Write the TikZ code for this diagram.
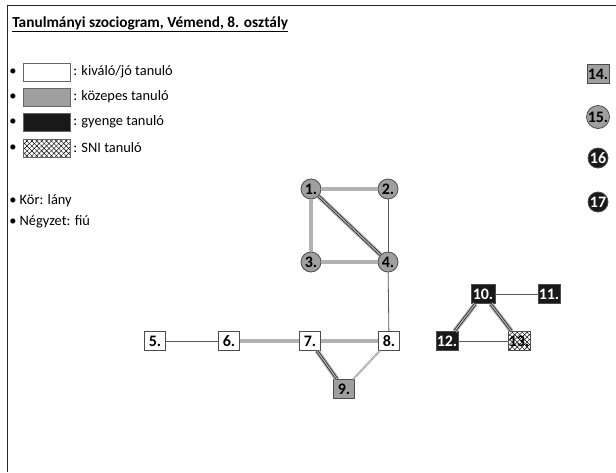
\documentclass[tikz,border=0pt]{standalone}
\usepackage{fontspec}
\setmainfont{Carlito}
\usetikzlibrary{patterns.meta}
\begin{document}
\begin{tikzpicture}[x=0.75pt,y=-0.75pt,
  every node/.style={font=\bfseries\fontsize{12}{14}\selectfont, inner sep=0pt},
  girl/.style={circle, draw=black!70, line width=0.6pt, minimum size=20*0.75pt},
  boy/.style={rectangle, draw=black!70, line width=0.6pt, minimum width=21*0.75pt, minimum height=19*0.75pt},
  good/.style={fill=white, text=black},
  mid/.style={fill=gray!75, text=black},
  weak/.style={fill=black!90, text=white},
  sni/.style={fill=white, text=black,
    pattern={Lines[angle=45,distance=2.6pt,line width=0.35pt]},
    preaction={fill=white},
    preaction={pattern={Lines[angle=-45,distance=2.6pt,line width=0.35pt]}}},
  mutual/.style={draw=black!90, line width=0.5pt, double=gray!60, double distance=0.9pt,
    preaction={draw=gray!60, line width=3.6pt}},
  single/.style={draw=gray!70!black, line width=0.6pt},
  light/.style={draw=gray!75, line width=0.45pt, double=gray!40, double distance=0.6pt},
  legbox/.style={rectangle, draw=black!60, line width=0.5pt, minimum width=47*0.75pt, minimum height=18*0.75pt},
  legtext/.style={font=\fontsize{10.8}{12}\selectfont, anchor=west},
]
\useasboundingbox (0,0) rectangle (616,472);
\fill[white] (0,0) rectangle (616,472);
% frame
\draw[black!85, line width=1.2pt] (7.5,472) -- (7.5,5.5) -- (616,5.5);

% title
\node[anchor=base west, font=\bfseries\fontsize{11.5}{13}\selectfont] (title) at (12,27) {\underline{Tanulmányi szociogram, Vémend, 8. osztály}};

% legend
\node[legtext] (b1) at (9,72) {\textbullet};
\node[legbox, fill=white] (l1) at (46.5,72) {};
\node[legtext] (t1) at (73,72) {: kiváló/jó tanuló};
\node[legtext] (b2) at (9,97) {\textbullet};
\node[legbox, fill=gray!75] (l2) at (46.5,97) {};
\node[legtext] (t2) at (73,97) {: közepes tanuló};
\node[legtext] (b3) at (9,122) {\textbullet};
\node[legbox, fill=black!90] (l3) at (46.5,122) {};
\node[legtext] (t3) at (73,122) {: gyenge tanuló};
\node[legtext] (b4) at (9,148) {\textbullet};
\node[legbox, sni] (l4) at (46.5,148) {};
\node[legtext] (t4) at (73,148) {: SNI tanuló};
\node[legtext] (kor) at (9,201) {\textbullet\ Kör: lány};
\node[legtext] (negy) at (9,222) {\textbullet\ Négyzet: fiú};

% nodes
\node[girl, mid] (n1) at (311,189) {1.};
\node[girl, mid] (n2) at (388,189) {2.};
\node[girl, mid] (n3) at (311,262) {3.};
\node[girl, mid] (n4) at (388,262) {4.};
\node[boy, good] (n5) at (155,341) {5.};
\node[boy, good] (n6) at (229,341) {6.};
\node[boy, good] (n7) at (310,341) {7.};
\node[boy, good] (n8) at (389,341) {8.};
\node[boy, mid] (n9) at (344,389) {9.};
\node[boy, weak, minimum width=24*0.75pt] (n10) at (483,294) {10.};
\node[boy, weak, minimum width=22*0.75pt] (n11) at (549,294) {11.};
\node[boy, weak, minimum width=22*0.75pt] (n12) at (447,341) {12.};
\node[boy, sni, minimum width=22*0.75pt] (n13) at (519,341) {13.};
\node[boy, mid, minimum width=22*0.75pt] (n14) at (598,74) {14.};
\node[girl, mid] (n15) at (598,117) {15.};
\node[girl, weak] (n16) at (598,158) {16};
\node[girl, weak] (n17) at (598,202) {17};

% edges
\path[mutual] (n1) -- (n2);
\path[mutual] (n1) -- (n3);
\path[mutual] (n1) -- (n4);
\path[mutual] (n3) -- (n4);
\path[single] (n2) -- (n4);
\path[single] (n4) -- (n8);
\path[single] (n5) -- (n6);
\path[mutual] (n6) -- (n7);
\path[mutual] (n7) -- (n8);
\path[mutual] (n7) -- (n9);
\path[light] (n8) -- (n9);
\path[single] (n10) -- (n11);
\path[mutual] (n10) -- (n12);
\path[mutual] (n10) -- (n13);
\path[single] (n12) -- (n13);
\end{tikzpicture}
\end{document}
